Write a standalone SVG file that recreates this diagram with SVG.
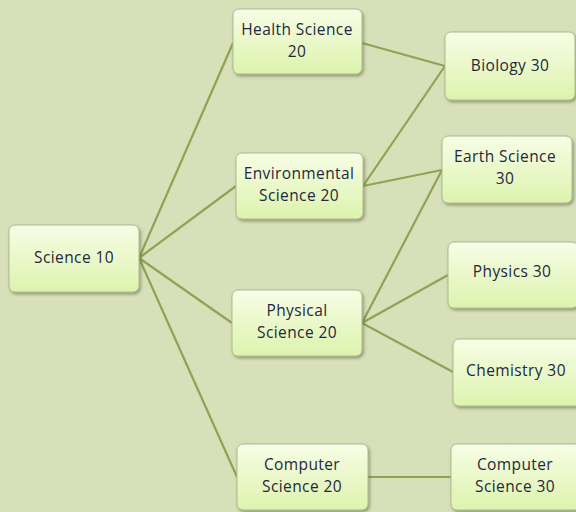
<svg xmlns="http://www.w3.org/2000/svg" width="576" height="512" viewBox="0 0 576 512">
<defs>
<linearGradient id="g" x1="0" y1="0" x2="0" y2="1">
<stop offset="0" stop-color="#f7fde6"/>
<stop offset="1" stop-color="#ddf3ad"/>
</linearGradient>
<filter id="sh" x="-10%" y="-10%" width="130%" height="130%">
<feDropShadow dx="1.5" dy="2" stdDeviation="1.5" flood-color="#5a6340" flood-opacity="0.55"/>
</filter>
</defs>
<style>
.box{fill:url(#g);stroke:#aebb8f;stroke-width:1;filter:url(#sh)}
.t{font-family:"Open Sans","Liberation Sans",sans-serif;font-size:15.5px;letter-spacing:0.4px;fill:#1e2840;text-anchor:middle}
.c{stroke:#8fa352;stroke-width:2.2;fill:none}
</style>
<rect width="576" height="512" fill="#d8e0ba"/>
<g id="connectors">
<line class="c" x1="139" y1="258" x2="233" y2="43"/>
<line class="c" x1="139" y1="258" x2="236" y2="186"/>
<line class="c" x1="139" y1="258" x2="232" y2="323"/>
<line class="c" x1="139" y1="258" x2="237" y2="477"/>
<line class="c" x1="362" y1="43" x2="445" y2="66"/>
<line class="c" x1="363" y1="186" x2="445" y2="66"/>
<line class="c" x1="363" y1="186" x2="442" y2="170"/>
<line class="c" x1="362" y1="323" x2="442" y2="170"/>
<line class="c" x1="362" y1="323" x2="448" y2="275"/>
<line class="c" x1="362" y1="323" x2="453" y2="372"/>
<line class="c" x1="368" y1="477" x2="451" y2="477"/>
</g>
<g id="science10"><rect class="box" x="9" y="225" width="130" height="67" rx="6"/><text class="t" x="74" y="263">Science 10</text></g>
<g id="health20"><rect class="box" x="233" y="9" width="129" height="65" rx="6"/><text class="t" x="297" y="35">Health Science</text><text class="t" x="297" y="57">20</text></g>
<g id="env20"><rect class="box" x="236" y="153" width="127" height="66" rx="6"/><text class="t" x="299" y="179">Environmental</text><text class="t" x="299" y="201">Science 20</text></g>
<g id="phys20"><rect class="box" x="232" y="290" width="130" height="66" rx="6"/><text class="t" x="297" y="316">Physical</text><text class="t" x="297" y="338">Science 20</text></g>
<g id="comp20"><rect class="box" x="237" y="444" width="131" height="66" rx="6"/><text class="t" x="302" y="470">Computer</text><text class="t" x="302" y="492">Science 20</text></g>
<g id="bio30"><rect class="box" x="445" y="32" width="130" height="68" rx="6"/><text class="t" x="510" y="71">Biology 30</text></g>
<g id="earth30"><rect class="box" x="442" y="136" width="130" height="67" rx="6"/><text class="t" x="505" y="162">Earth Science</text><text class="t" x="505" y="184">30</text></g>
<g id="physics30"><rect class="box" x="448" y="242" width="130" height="66" rx="6"/><text class="t" x="512" y="277">Physics 30</text></g>
<g id="chem30"><rect class="box" x="453" y="339" width="130" height="67" rx="6"/><text class="t" x="516" y="376">Chemistry 30</text></g>
<g id="comp30"><rect class="box" x="451" y="444" width="130" height="66" rx="6"/><text class="t" x="515" y="470">Computer</text><text class="t" x="515" y="492">Science 30</text></g>
</svg>
